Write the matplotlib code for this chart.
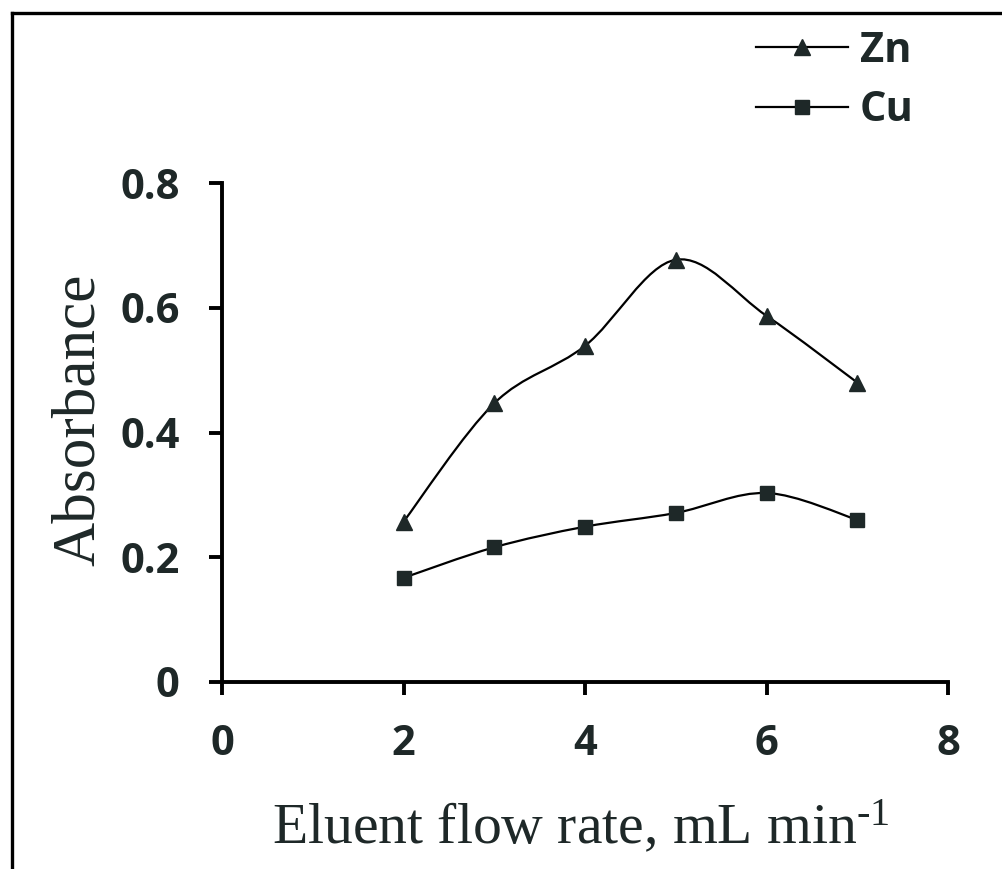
import matplotlib
matplotlib.use('Agg')
import matplotlib.pyplot as plt
from matplotlib.lines import Line2D
from matplotlib.path import Path
from matplotlib.patches import PathPatch

flow_rate = [2, 3, 4, 5, 6, 7]
zn_abs = [0.257, 0.447, 0.539, 0.677, 0.587, 0.480]
cu_abs = [0.167, 0.216, 0.249, 0.271, 0.303, 0.260]

x_ticks = [0, 2, 4, 6, 8]
y_ticks = [0, 0.2, 0.4, 0.6, 0.8]
y_tick_labels = ['0', '0.2', '0.4', '0.6', '0.8']

ink = '#1e2828'
plt.rcParams['mathtext.fontset'] = 'custom'
plt.rcParams['mathtext.rm'] = 'Liberation Serif'
plt.rcParams['mathtext.it'] = 'Liberation Serif:italic'


def smooth_path(xs, ys):
    # excel style smoothed line: catmull-rom as cubic bezier
    pts = list(zip(xs, ys))
    verts = [pts[0]]
    codes = [Path.MOVETO]
    n = len(pts)
    for i in range(n - 1):
        p0 = pts[i - 1] if i > 0 else pts[i]
        p1 = pts[i]
        p2 = pts[i + 1]
        p3 = pts[i + 2] if i + 2 < n else pts[i + 1]
        c1 = (p1[0] + (p2[0] - p0[0]) / 6, p1[1] + (p2[1] - p0[1]) / 6)
        c2 = (p2[0] - (p3[0] - p1[0]) / 6, p2[1] - (p3[1] - p1[1]) / 6)
        verts += [c1, c2, p2]
        codes += [Path.CURVE4] * 3
    return Path(verts, codes)


fig = plt.figure(figsize=(10.02, 8.69), dpi=100)
ax = fig.add_axes([0.2216, 0.2152, 0.7246, 0.5742])

for ys, mk, ms in [(zn_abs, '^', 11.5), (cu_abs, 's', 10.5)]:
    ax.add_patch(PathPatch(smooth_path(flow_rate, ys), fill=False,
                           edgecolor='black', lw=1.6, zorder=2))
    ax.plot(flow_rate, ys, linestyle='none', marker=mk, markersize=ms,
            markerfacecolor=ink, markeredgecolor=ink, zorder=3)

ax.set_xlim(0, 8)
ax.set_ylim(0, 0.8)
ax.set_xticks(x_ticks)
ax.set_yticks(y_ticks)
ax.set_yticklabels(y_tick_labels)
for s in ['top', 'right']:
    ax.spines[s].set_visible(False)
for s in ['left', 'bottom']:
    ax.spines[s].set_linewidth(2.8)
ax.tick_params(direction='out', length=9.5, width=2.8, pad=21,
               labelsize=30, labelcolor=ink)
for lab in ax.get_xticklabels() + ax.get_yticklabels():
    lab.set_family('Open Sans')
    lab.set_fontweight('bold')

fig.text(0.079, 0.517, 'Absorbance', rotation=90, ha='center', va='center',
         family='Liberation Serif', fontsize=44, color=ink)
fig.text(0.580, 0.029, r'Eluent flow rate, mL min$^{\text{-1}}$', ha='center',
         va='baseline', family='Liberation Serif', fontsize=41.5, color=ink)

handles = [
    Line2D([], [], color='black', lw=1.6, marker='^', markersize=11.5,
           markerfacecolor=ink, markeredgecolor=ink),
    Line2D([], [], color='black', lw=1.6, marker='s', markersize=10.5,
           markerfacecolor=ink, markeredgecolor=ink),
]
leg = fig.legend(handles, ['Zn', 'Cu'], loc='upper left',
                 bbox_to_anchor=(0.717, 1.008), frameon=False,
                 handlelength=2.2, handletextpad=0.3, labelspacing=0.45,
                 prop={'family': 'Open Sans', 'weight': 'bold', 'size': 30})
for t in leg.get_texts():
    t.set_color(ink)

# border lines on top and left of the picture
fig.add_artist(Line2D([12 / 1002, 12 / 1002], [0, 1 - 13 / 869],
                      transform=fig.transFigure, color='black', lw=2.4))
fig.add_artist(Line2D([12 / 1002, 1], [1 - 13 / 869, 1 - 13 / 869],
                      transform=fig.transFigure, color='black', lw=2.4))

fig.savefig('out.png', dpi=100)
